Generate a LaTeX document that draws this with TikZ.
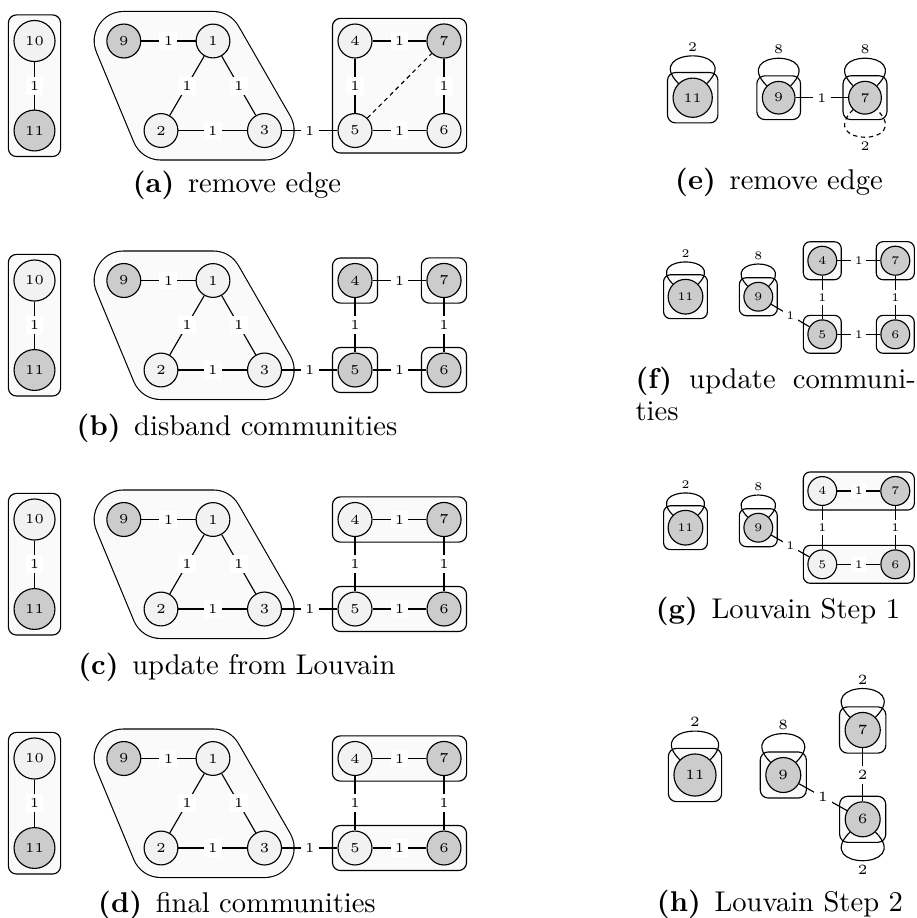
\documentclass[tikz,border=0pt]{standalone}
\usetikzlibrary{fit,backgrounds}

\definecolor{vlight}{gray}{0.95}
\definecolor{vdark}{gray}{0.80}
\definecolor{commfill}{gray}{0.98}

% vertex label fonts for the differently sized panels
\newcommand{\vfA}{\fontsize{4.8}{5.6}\selectfont}
\newcommand{\vfE}{\fontsize{4.61}{5.4}\selectfont}
\newcommand{\vfF}{\fontsize{4.08}{4.8}\selectfont}
\newcommand{\vfH}{\fontsize{4.94}{5.8}\selectfont}

\tikzset{
  vtx/.style={circle, draw, line width=0.4pt, inner sep=2.57pt, font=\vfA},
  litev/.style={vtx, fill=vlight},
  darkv/.style={vtx, fill=vdark},
  sizeE/.style={inner sep=2.47pt, font=\vfE},
  sizeF/.style={inner sep=2.18pt, font=\vfF},
  sizeH/.style={inner sep=2.65pt, font=\vfH},
  lnk/.style={line width=0.4pt},
  brokenlnk/.style={lnk, dash pattern=on 1.5pt off 1.3pt},
  wt/.style={fill=white, inner sep=1.5pt, font=\vfA},
  wtsm/.style={fill=white, inner sep=1.25pt, font=\vfF},
  loopup/.style={pos=0.5, above, inner sep=1.3pt},
  loopdown/.style={pos=0.5, below, inner sep=1.3pt},
  comm/.style={draw, line width=0.4pt, fill=commfill, rounded corners=2.8pt, inner sep=1.75pt},
  commsm/.style={comm, inner sep=1.4pt, rounded corners=2.4pt},
  subcap/.style={anchor=base, font=\fontsize{10}{12}\selectfont, inner sep=0pt},
}

% One graph of the left column.
% #1 name prefix, #2 y of the upper row, #3-#6 styles of vertices 4,5,6,7
\newcommand{\leftgraph}[6]{%
  \node[litev] (#1v10) at (34.5,#2) {10};
  \node[darkv] (#1v11) at (34.5,#2+89.5) {11};
  \node[darkv] (#1v9) at (123.8,#2) {9};
  \node[litev] (#1v1) at (213,#2) {1};
  \node[litev] (#1v2) at (161,#2+89.5) {2};
  \node[litev] (#1v3) at (264.5,#2+89.5) {3};
  \node[#3] (#1v4) at (355,#2) {4};
  \node[#4] (#1v5) at (355,#2+89.5) {5};
  \node[#5] (#1v6) at (444,#2+89.5) {6};
  \node[#6] (#1v7) at (444,#2) {7};
  \draw[lnk] (#1v10) -- node[wt]{1} (#1v11);
  \draw[lnk] (#1v9) -- node[wt]{1} (#1v1);
  \draw[lnk] (#1v1) -- node[wt]{1} (#1v2);
  \draw[lnk] (#1v1) -- node[wt]{1} (#1v3);
  \draw[lnk] (#1v2) -- node[wt]{1} (#1v3);
  \draw[lnk] (#1v3) -- node[wt]{1} (#1v5);
  \draw[lnk] (#1v4) -- node[wt]{1} (#1v7);
  \draw[lnk] (#1v4) -- node[wt]{1} (#1v5);
  \draw[lnk] (#1v7) -- node[wt]{1} (#1v6);
  \draw[lnk] (#1v5) -- node[wt]{1} (#1v6);
  \begin{scope}[on background layer]
    % community {9,1,2,3}: offset hull of the four centres
    \draw[line width=21.05pt, line join=round]
      (#1v9.center) -- (#1v1.center) -- (#1v3.center) -- (#1v2.center) -- cycle;
    \draw[line width=20.25pt, line join=round, draw=commfill, fill=commfill]
      (#1v9.center) -- (#1v1.center) -- (#1v3.center) -- (#1v2.center) -- cycle;
    \node[comm, fit=(#1v10)(#1v11)] {};
  \end{scope}
}

\begin{document}
\begin{tikzpicture}[x=0.35pt, y=-0.35pt]
\useasboundingbox (0,0) rectangle (917,918);

% ---------------- (a) remove edge
\leftgraph{a}{41}{litev}{litev}{litev}{darkv}
\draw[brokenlnk] (av5) -- (av7);
\begin{scope}[on background layer]
  \node[comm, fit=(av4)(av5)(av6)(av7)] {};
\end{scope}
\node[subcap] (capa) at (237,192) {\textbf{(a)}\hspace{4.8pt}remove edge};

% ---------------- (b) disband communities
\leftgraph{b}{280.5}{darkv}{darkv}{darkv}{darkv}
\begin{scope}[on background layer]
  \node[comm, fit=(bv4)] {};
  \node[comm, fit=(bv5)] {};
  \node[comm, fit=(bv6)] {};
  \node[comm, fit=(bv7)] {};
\end{scope}
\node[subcap] (capb) at (237,435) {\textbf{(b)}\hspace{4.8pt}disband communities};

% ---------------- (c) update from Louvain
\leftgraph{c}{519.5}{litev}{litev}{darkv}{darkv}
\begin{scope}[on background layer]
  \node[comm, fit=(cv4)(cv7)] {};
  \node[comm, fit=(cv5)(cv6)] {};
\end{scope}
\node[subcap] (capc) at (237,674) {\textbf{(c)}\hspace{4.8pt}update from Louvain};

% ---------------- (d) final communities
\leftgraph{d}{758.5}{litev}{litev}{darkv}{darkv}
\begin{scope}[on background layer]
  \node[comm, fit=(dv4)(dv7)] {};
  \node[comm, fit=(dv5)(dv6)] {};
\end{scope}
\node[subcap] (capd) at (237,912) {\textbf{(d)}\hspace{4.8pt}final communities};

% ---------------- (e) remove edge (aggregated graph)
\node[darkv, sizeE] (e11) at (692.7,97.7) {11};
\node[darkv, sizeE] (e9) at (778.7,97.7) {9};
\node[darkv, sizeE] (e7) at (865,97.7) {7};
\draw[lnk] (e9) -- node[wt, font=\vfE]{1} (e7);
\draw[lnk] (e11.135) .. controls +(135:18.2pt) and +(45:18.2pt) .. node[loopup, font=\vfE]{2} (e11.45);
\draw[lnk] (e9.135) .. controls +(135:18.2pt) and +(45:18.2pt) .. node[loopup, font=\vfE]{8} (e9.45);
\draw[lnk] (e7.135) .. controls +(135:18.2pt) and +(45:18.2pt) .. node[loopup, font=\vfE]{8} (e7.45);
\draw[brokenlnk] (e7.-135) .. controls +(-135:18.2pt) and +(-45:18.2pt) .. node[loopdown, font=\vfE]{2} (e7.-45);
\begin{scope}[on background layer]
  \node[comm, fit=(e11)] {};
  \node[comm, fit=(e9)] {};
  \node[comm, fit=(e7)] {};
\end{scope}
\node[subcap] (cape) at (779,189) {\textbf{(e)}\hspace{4.8pt}remove edge};

% ---------------- (f) update communities
\node[darkv, sizeF] (f11) at (685.5,296.7) {11};
\node[darkv, sizeF] (f9) at (758.3,296.7) {9};
\node[darkv, sizeF] (f4) at (822.3,260.7) {4};
\node[darkv, sizeF] (f7) at (895.3,260.7) {7};
\node[darkv, sizeF] (f5) at (822.3,334.3) {5};
\node[darkv, sizeF] (f6) at (895.3,334.3) {6};
\draw[lnk] (f4) -- node[wtsm]{1} (f7);
\draw[lnk] (f4) -- node[wtsm]{1} (f5);
\draw[lnk] (f7) -- node[wtsm]{1} (f6);
\draw[lnk] (f5) -- node[wtsm]{1} (f6);
\draw[lnk] (f9) -- node[wtsm]{1} (f5);
\draw[lnk] (f11.135) .. controls +(135:14.6pt) and +(45:14.6pt) .. node[loopup, inner sep=1.2pt, font=\vfF]{2} (f11.45);
\draw[lnk] (f9.135) .. controls +(135:14.6pt) and +(45:14.6pt) .. node[loopup, inner sep=1.2pt, font=\vfF]{8} (f9.45);
\begin{scope}[on background layer]
  \node[commsm, fit=(f11)] {};
  \node[commsm, fit=(f9)] {};
  \node[commsm, fit=(f4)] {};
  \node[commsm, fit=(f7)] {};
  \node[commsm, fit=(f5)] {};
  \node[commsm, fit=(f6)] {};
\end{scope}
\node[subcap, anchor=base west] (capf) at (635,388) {\textbf{(f)}\hspace{6pt}update\hspace{6pt}communi-};
\node[subcap, anchor=base west] (capf2) at (635,420) {ties};

% ---------------- (g) Louvain Step 1
\node[darkv, sizeF] (g11) at (685.5,527.7) {11};
\node[darkv, sizeF] (g9) at (758.3,527.7) {9};
\node[litev, sizeF] (g4) at (822.3,491) {4};
\node[darkv, sizeF] (g7) at (895.3,491) {7};
\node[litev, sizeF] (g5) at (822.3,564.3) {5};
\node[darkv, sizeF] (g6) at (895.3,564.3) {6};
\draw[lnk] (g4) -- node[wtsm]{1} (g7);
\draw[lnk] (g4) -- node[wtsm]{1} (g5);
\draw[lnk] (g7) -- node[wtsm]{1} (g6);
\draw[lnk] (g5) -- node[wtsm]{1} (g6);
\draw[lnk] (g9) -- node[wtsm]{1} (g5);
\draw[lnk] (g11.135) .. controls +(135:14.6pt) and +(45:14.6pt) .. node[loopup, inner sep=1.2pt, font=\vfF]{2} (g11.45);
\draw[lnk] (g9.135) .. controls +(135:14.6pt) and +(45:14.6pt) .. node[loopup, inner sep=1.2pt, font=\vfF]{8} (g9.45);
\begin{scope}[on background layer]
  \node[commsm, fit=(g11)] {};
  \node[commsm, fit=(g9)] {};
  \node[commsm, fit=(g4)(g7)] {};
  \node[commsm, fit=(g5)(g6)] {};
\end{scope}
\node[subcap] (capg) at (778,618) {\textbf{(g)}\hspace{4.8pt}Louvain Step 1};

% ---------------- (h) Louvain Step 2
\node[darkv, sizeH] (h11) at (695,775) {11};
\node[darkv, sizeH] (h9) at (783.3,775) {9};
\node[darkv, sizeH] (h7) at (862.7,730) {7};
\node[darkv, sizeH] (h6) at (862.7,819.3) {6};
\draw[lnk] (h7) -- node[wt, font=\vfH]{2} (h6);
\draw[lnk] (h9) -- node[wt, font=\vfH]{1} (h6);
\draw[lnk] (h11.135) .. controls +(135:18.9pt) and +(45:18.9pt) .. node[loopup, font=\vfH]{2} (h11.45);
\draw[lnk] (h9.135) .. controls +(135:18.9pt) and +(45:18.9pt) .. node[loopup, font=\vfH]{8} (h9.45);
\draw[lnk] (h7.135) .. controls +(135:18.9pt) and +(45:18.9pt) .. node[loopup, font=\vfH]{2} (h7.45);
\draw[lnk] (h6.-135) .. controls +(-135:18.9pt) and +(-45:18.9pt) .. node[loopdown, font=\vfH]{2} (h6.-45);
\begin{scope}[on background layer]
  \node[comm, fit=(h11)] {};
  \node[comm, fit=(h9)] {};
  \node[comm, fit=(h7)] {};
  \node[comm, fit=(h6)] {};
\end{scope}
\node[subcap] (caph) at (780,911) {\textbf{(h)}\hspace{4.8pt}Louvain Step 2};

\end{tikzpicture}
\end{document}
